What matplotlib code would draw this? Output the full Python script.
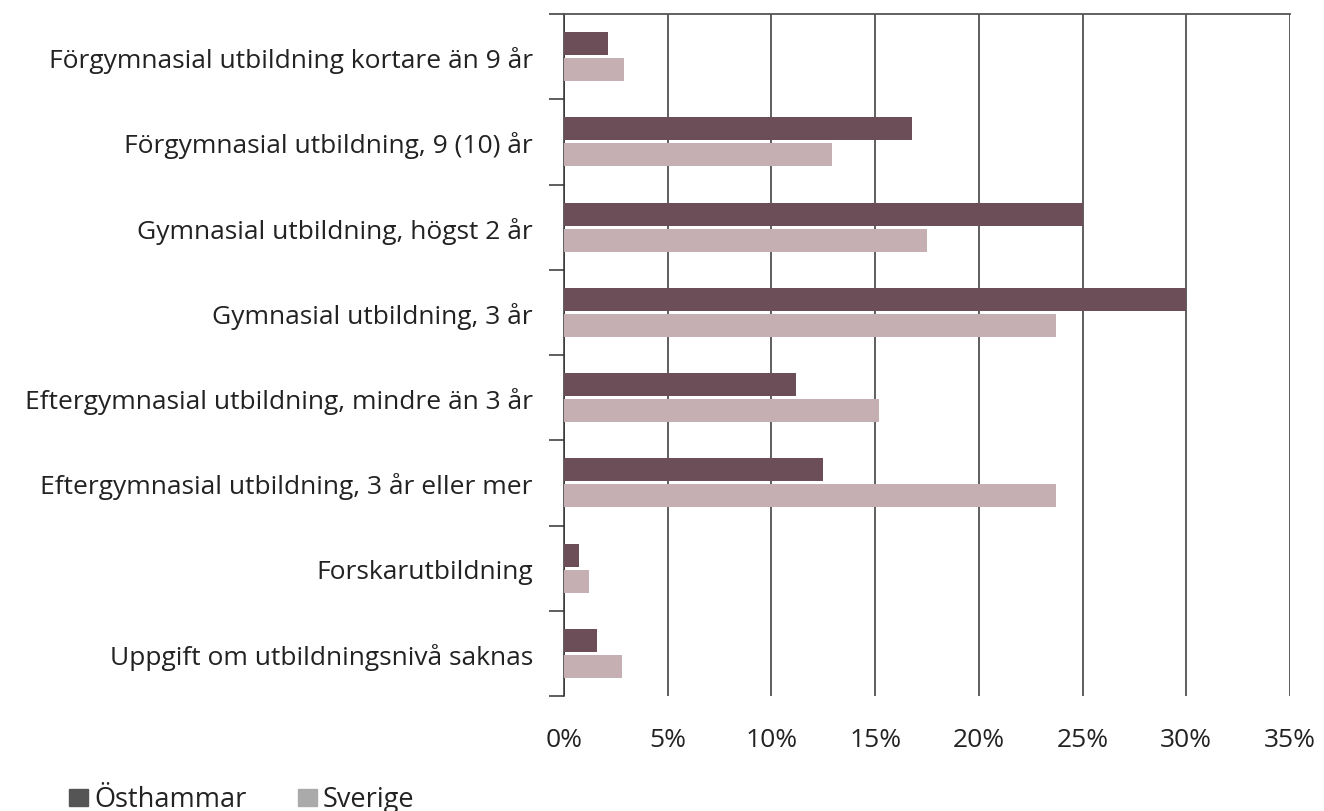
import matplotlib
matplotlib.use('Agg')
import matplotlib.pyplot as plt
import numpy as np
from matplotlib.patches import Rectangle

# Utbildningsnivå, andel av befolkningen (%)
categories = ['Förgymnasial utbildning kortare än 9 år',
              'Förgymnasial utbildning, 9 (10) år',
              'Gymnasial utbildning, högst 2 år',
              'Gymnasial utbildning, 3 år',
              'Eftergymnasial utbildning, mindre än 3 år',
              'Eftergymnasial utbildning, 3 år eller mer',
              'Forskarutbildning',
              'Uppgift om utbildningsnivå saknas']
osthammar = [2.1, 16.8, 25.0, 30.0, 11.2, 12.5, 0.7, 1.6]
sverige = [2.9, 12.9, 17.5, 23.7, 15.2, 23.7, 1.2, 2.8]
xticks = [0, 5, 10, 15, 20, 25, 30, 35]
xticklabels = ['0%', '5%', '10%', '15%', '20%', '25%', '30%', '35%']
series_names = ['Östhammar', 'Sverige']

plt.rcParams['font.family'] = ['Open Sans', 'DejaVu Sans']

dark = '#6b4e57'
light = '#c5afb3'

W, H = 1324, 812
fig = plt.figure(figsize=(W / 100, H / 100), dpi=100)
ax = fig.add_axes([564 / W, 1 - 697 / H, (1290 - 564) / W, (697 - 15) / H])

y = np.arange(len(categories))
ax.barh(y - 0.152, osthammar, height=0.27, color=dark, zorder=3)
ax.barh(y + 0.152, sverige, height=0.27, color=light, zorder=3)

ax.set_xlim(0, 35)
ax.set_ylim(len(categories) - 0.5, -0.5)

ax.set_xticks(xticks)
ax.set_xticklabels(xticklabels, fontsize=19, color='#222222')
ax.tick_params(axis='x', length=0, pad=22)
ax.grid(axis='x', color='#333333', linewidth=1.1, zorder=1)

# kategorinamn i mitten, tickmarkeringar mellan kategorierna
ax.set_yticks(y)
ax.set_yticklabels(categories, fontsize=19, color='#222222')
ax.tick_params(axis='y', which='major', length=0, pad=22.5)
ax.set_yticks(np.arange(len(categories) + 1) - 0.5, minor=True)
ax.tick_params(axis='y', which='minor', length=11, width=1.1, color='#333333')

for s in ['right', 'bottom']:
    ax.spines[s].set_visible(False)
ax.spines['top'].set_color('#555555')
ax.spines['top'].set_linewidth(1.3)
ax.spines['left'].set_color('#333333')
ax.spines['left'].set_linewidth(1.1)

# förklaring längst ner till vänster
leg_colors = ['#555555', '#aaaaaa']
leg_x = [69, 298]
for name, c, x0 in zip(series_names, leg_colors, leg_x):
    fig.add_artist(Rectangle((x0 / W, 5 / H), 19 / W, 17 / H, color=c,
                             transform=fig.transFigure))
    fig.text((x0 + 25) / W, 5 / H, name, fontsize=19.5, color='#222222',
             va='baseline', ha='left')

fig.savefig('out.png', dpi=100)
